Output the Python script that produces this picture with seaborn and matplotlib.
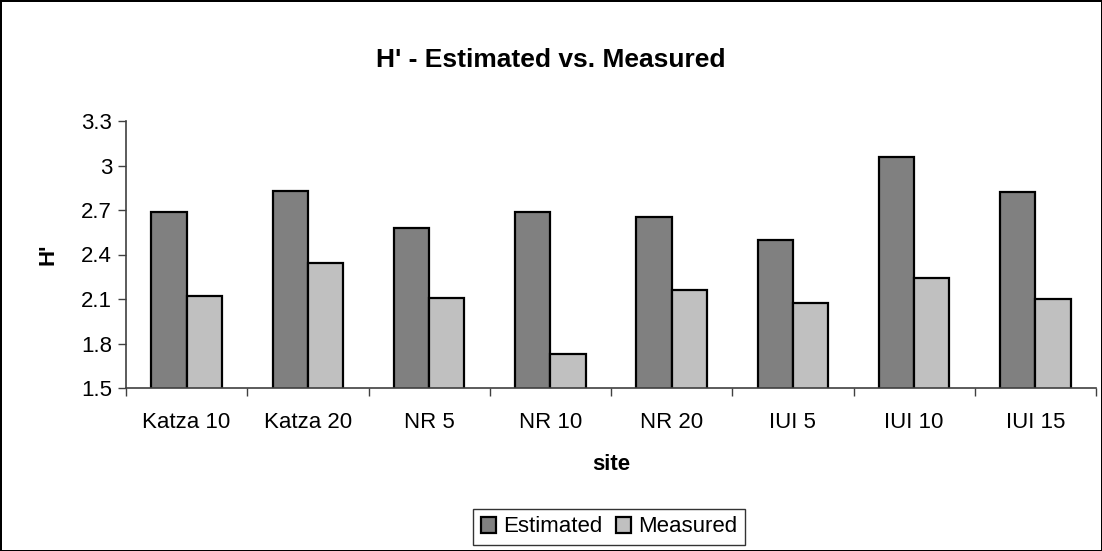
import matplotlib
matplotlib.use("Agg")
import matplotlib.pyplot as plt
import seaborn as sns
import pandas as pd
import numpy as np
from matplotlib.ticker import FixedLocator

sites = ["Katza 10", "Katza 20", "NR 5", "NR 10", "NR 20", "IUI 5", "IUI 10", "IUI 15"]
estimated = [2.685, 2.83, 2.58, 2.685, 2.65, 2.50, 3.06, 2.82]
measured = [2.12, 2.34, 2.11, 1.73, 2.16, 2.07, 2.24, 2.10]
series = ["Estimated", "Measured"]
yticks = [1.5, 1.8, 2.1, 2.4, 2.7, 3.0, 3.3]
ytick_labels = ["1.5", "1.8", "2.1", "2.4", "2.7", "3", "3.3"]

df = pd.DataFrame({
    "site": sites * 2,
    "value": estimated + measured,
    "series": [series[0]] * len(sites) + [series[1]] * len(sites),
})

sns.set_theme(style="white")
plt.rcParams["font.family"] = ["Liberation Sans", "DejaVu Sans"]
plt.rcParams["text.color"] = "black"

W, H = 1102, 551
fig = plt.figure(figsize=(W / 100, H / 100), dpi=100)
fig.patch.set_edgecolor("black")
fig.patch.set_linewidth(2)
left, right, top, bottom = 126, 1096, 121, 388
ax = fig.add_axes([left / W, 1 - bottom / H, (right - left) / W, (bottom - top) / H])

sns.barplot(data=df, x="site", y="value", hue="series", order=sites, hue_order=series,
            palette=["#808080", "#C0C0C0"], width=0.58, edgecolor="black", linewidth=1.6,
            saturation=1, ax=ax, legend=True)

ax.set_ylim(1.5, 3.3)
ax.set_xlim(-0.5, len(sites) - 0.5)
ax.set_yticks(yticks)
ax.set_yticklabels(ytick_labels)
ax.xaxis.set_minor_locator(FixedLocator(np.arange(-0.5, len(sites), 1.0)))
ax.tick_params(axis="x", which="major", length=0, labelsize=16, pad=17, labelcolor="black")
ax.tick_params(axis="x", which="minor", length=6, width=1, color="#404040", direction="out", bottom=True)
ax.tick_params(axis="y", which="major", length=6, width=1, color="#404040", direction="out", left=True,
               labelsize=16, pad=4, labelcolor="black")
for s in ["top", "right"]:
    ax.spines[s].set_visible(False)
for s in ["left", "bottom"]:
    ax.spines[s].set_color("#404040")
    ax.spines[s].set_linewidth(1.2)

ax.set_xlabel("")
ax.set_ylabel("")
fig.text((left + right) / 2 / W, 1 - 465 / H, "site", ha="center", va="center",
         fontsize=16, fontweight="bold", color="black")
fig.text(48 / W, 1 - 254 / H, "H'", ha="center", va="center", rotation=90,
         fontsize=16, fontweight="bold", color="black")
fig.text(551 / W, 1 - 60 / H, "H' - Estimated vs. Measured", ha="center", va="center",
         fontsize=19, fontweight="bold", color="black")

handles, labels = ax.get_legend_handles_labels()
ax.get_legend().remove()
leg = fig.legend(handles, labels, loc="center", bbox_to_anchor=(609 / W, 1 - 527 / H),
                 ncol=2, frameon=True, fancybox=False, fontsize=16, handlelength=0.7,
                 handleheight=0.7, handletextpad=0.3, columnspacing=0.6, borderpad=0.35,
                 labelcolor="black")
leg.get_frame().set_edgecolor("black")
leg.get_frame().set_linewidth(1)

fig.savefig("out.png", dpi=100)
